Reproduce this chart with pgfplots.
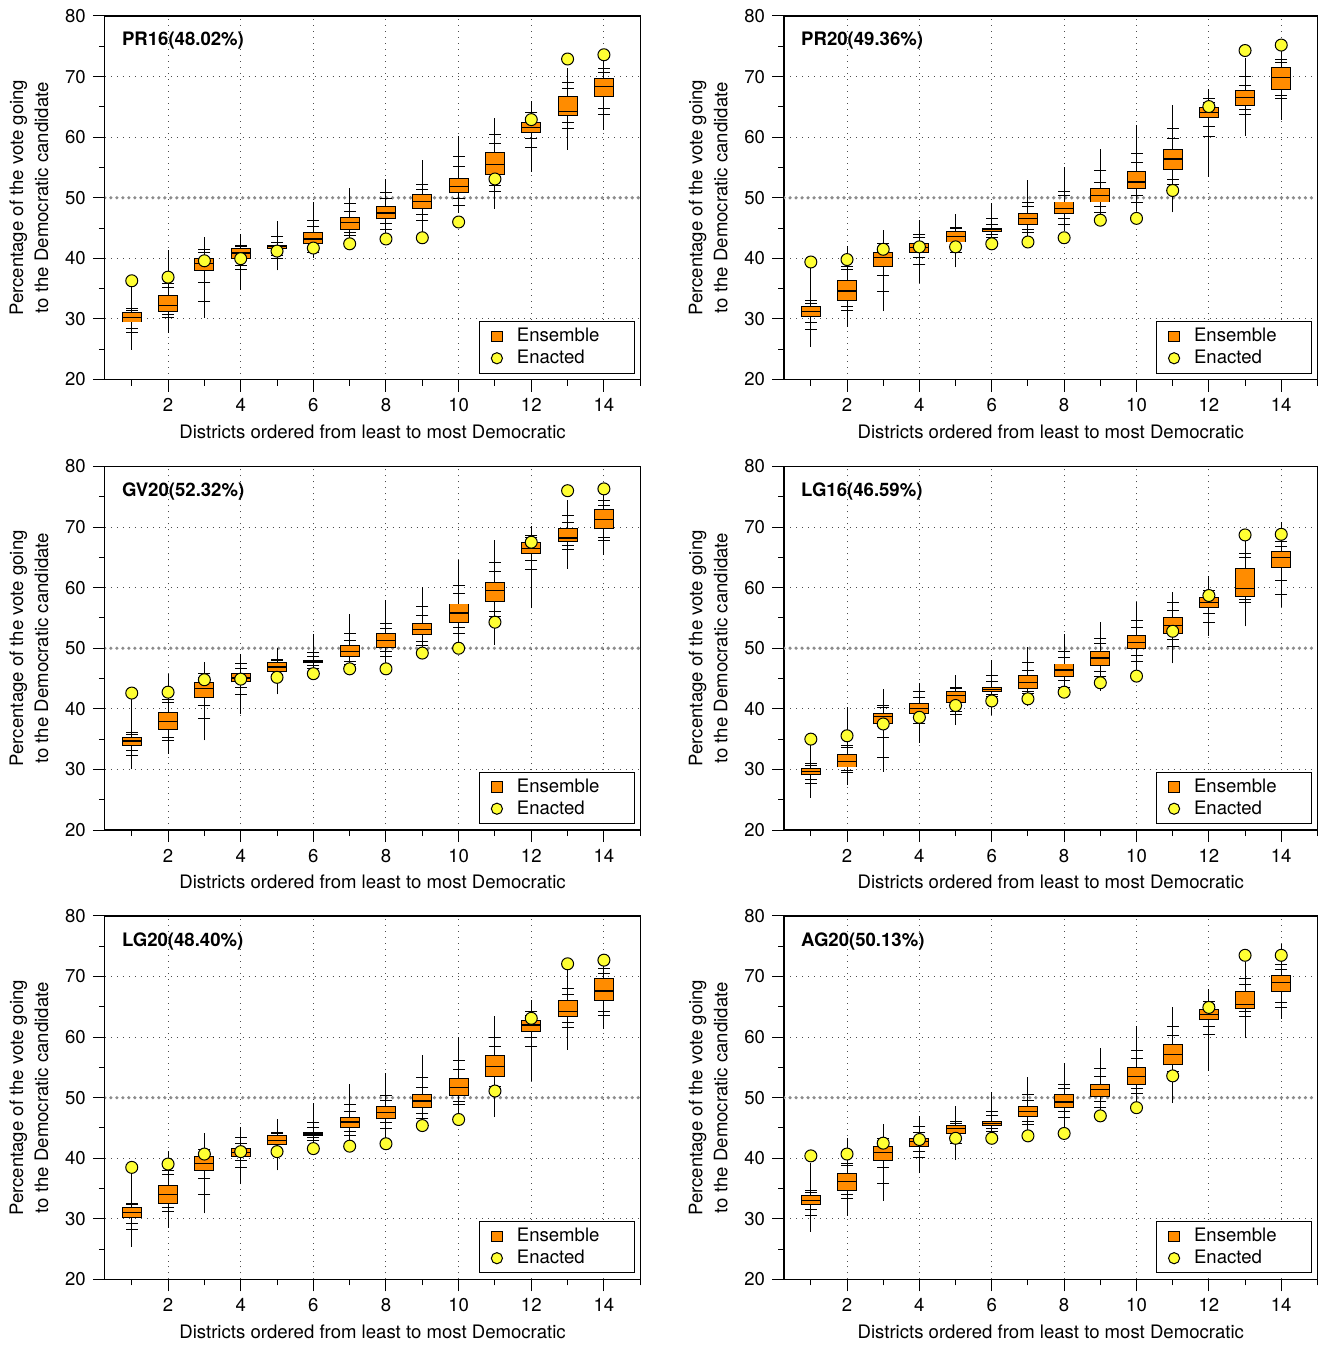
\documentclass[border=0pt]{standalone}
\usepackage{fontspec}
\setmainfont{TeX Gyre Heros}
\usepackage{pgfplots}
\pgfplotsset{compat=1.18}
\usepackage{pgfplotstable}
\definecolor{boxorange}{RGB}{255,140,0}
\definecolor{enyellow}{RGB}{255,255,51}

% columns: district, min, p1, p5, q1, median, q3, p95, p99, max, enacted
\pgfplotstableread{
d lw p1 p5 q1 med q3 p95 p99 uw en
1 24.9 27.8 28.5 29.5 30.3 31.0 31.4 31.8 35.8 36.3
2 27.7 30.2 30.7 31.3 32.2 33.85 35.2 35.8 41.4 36.9
3 30.2 32.8 36.0 38.0 39.1 40.05 40.9 41.5 43.5 39.6
4 34.8 38.2 38.9 40.05 40.9 41.6 41.9 42.2 44.0 39.95
5 38.0 40.05 40.5 41.7 41.9 42.1 42.7 43.6 46.2 41.2
6 40.05 41.0 41.6 42.4 43.2 44.2 45.3 46.3 49.3 41.7
7 43.2 43.8 44.2 44.8 45.9 46.8 47.7 49.0 51.6 42.4
8 43.9 44.7 45.8 46.5 47.5 48.6 49.8 50.8 53.1 43.2
9 44.2 46.3 47.2 48.3 49.4 50.6 51.3 52.25 56.2 43.4
10 47.5 48.8 49.9 50.8 51.8 53.2 55.2 56.8 60.2 46.0
11 48.2 51.0 52.0 53.8 55.5 57.4 59.0 60.4 63.1 53.1
12 54.3 58.35 59.8 60.8 61.6 62.5 63.3 64.0 65.9 62.9
13 57.9 61.4 62.5 63.6 64.3 66.7 68.0 69.1 71.4 72.9
14 61.2 63.8 64.7 66.7 68.4 69.7 70.7 71.4 73.0 73.6
}\tA

\pgfplotstableread{
d lw p1 p5 q1 med q3 p95 p99 uw en
1 25.4 28.3 29.4 30.4 31.2 32.0 32.6 33.0 38.9 39.4
2 28.7 31.4 32.0 33.1 34.6 36.3 38.2 38.7 42.0 39.8
3 31.3 34.5 37.1 38.6 40.1 41.0 41.8 42.5 44.7 41.5
4 36.0 39.0 40.2 41.0 41.8 42.4 43.4 44.0 46.3 41.9
5 38.5 41.0 42.0 42.7 43.6 44.45 44.9 45.1 47.25 41.9
6 41.5 43.5 44.0 44.5 44.7 44.95 45.6 46.5 49.2 42.4
7 43.1 44.2 44.8 45.6 46.6 47.4 48.6 49.3 52.9 42.7
8 44.5 45.6 46.6 47.4 48.2 49.3 50.4 51.1 55.1 43.4
9 46.7 47.6 48.5 49.3 50.4 51.5 52.6 54.5 58.1 46.3
10 47.8 49.3 50.4 51.5 52.6 54.4 55.9 57.3 62.0 46.6
11 47.6 52.2 53.0 54.7 56.4 58.0 59.8 61.4 65.3 51.2
12 53.5 60.05 61.7 63.2 64.1 64.9 65.7 66.3 67.9 65.05
13 60.2 63.7 64.6 65.3 66.6 67.7 68.6 70.05 73.1 74.3
14 62.8 66.4 66.9 67.9 69.8 71.5 72.25 72.9 74.2 75.2
}\tB

\pgfplotstableread{
d lw p1 p5 q1 med q3 p95 p99 uw en
1 30.0 32.3 33.2 34.0 34.7 35.2 35.7 36.05 42.0 42.6
2 32.6 34.8 35.3 36.6 37.9 39.45 41.1 41.6 45.7 42.75
3 34.8 38.35 40.5 41.8 43.3 44.4 45.2 45.8 47.7 44.8
4 39.1 42.4 43.5 44.45 45.1 45.9 46.6 47.5 49.1 44.9
5 42.4 45.0 45.6 46.2 46.9 47.6 48.0 48.2 50.05 45.2
6 44.8 46.6 47.1 47.6 47.75 48.0 48.7 49.3 52.4 45.8
7 45.9 47.3 47.75 48.7 49.5 50.4 51.3 52.5 55.7 46.6
8 47.3 48.7 49.4 50.2 51.3 52.4 53.2 54.0 57.9 46.6
9 49.8 50.4 51.15 52.2 53.1 54.1 55.4 56.9 60.1 49.2
10 50.9 52.4 53.5 54.3 55.8 57.3 59.0 60.3 64.6 50.0
11 50.6 55.3 56.1 57.7 59.5 60.9 62.6 64.2 67.9 54.3
12 56.6 63.0 64.45 65.7 66.5 67.5 68.2 68.6 70.2 67.5
13 63.1 66.3 67.0 67.6 68.2 69.7 70.7 71.9 74.5 76.0
14 65.4 67.75 68.3 69.7 71.3 72.9 73.6 74.3 75.3 76.3
}\tC

\pgfplotstableread{
d lw p1 p5 q1 med q3 p95 p99 uw en
1 25.3 27.7 28.35 29.1 29.6 30.2 30.6 31.0 34.5 35.0
2 27.4 29.45 29.9 30.4 31.3 32.4 33.6 34.0 40.3 35.55
3 29.6 32.0 35.2 37.5 38.7 39.3 40.2 40.6 43.3 37.5
4 34.4 37.6 38.35 39.3 40.05 40.8 41.9 42.8 44.3 38.6
5 37.3 39.0 39.6 41.1 42.2 42.9 43.3 43.6 45.55 40.55
6 39.0 42.0 42.4 42.9 43.2 43.5 44.45 45.5 48.0 41.3
7 40.4 42.5 42.9 43.3 44.4 45.55 46.3 47.6 50.2 41.65
8 42.1 43.6 44.6 45.4 46.4 47.4 48.5 49.5 52.4 42.75
9 43.0 45.4 46.2 47.2 48.4 49.5 50.8 51.6 54.3 44.3
10 46.4 47.75 48.85 50.0 51.0 52.1 53.35 54.6 57.6 45.4
11 47.5 50.3 51.4 52.4 53.8 55.0 56.3 57.6 59.2 52.8
12 52.1 54.3 55.7 56.8 57.6 58.3 58.9 59.5 62.0 58.7
13 53.6 57.6 58.0 58.6 59.8 63.1 64.9 65.6 67.8 68.7
14 56.8 58.85 61.15 63.4 65.0 65.9 66.8 67.6 70.9 68.8
}\tD

\pgfplotstableread{
d lw p1 p5 q1 med q3 p95 p99 uw en
1 25.4 28.2 29.2 30.2 31.0 31.8 32.3 32.6 37.9 38.5
2 28.5 31.2 31.8 32.6 34.0 35.5 37.3 38.0 41.2 39.05
3 30.9 34.0 36.6 38.0 39.2 40.3 41.0 41.5 44.1 40.7
4 35.7 38.5 39.6 40.3 41.0 41.65 42.5 43.4 45.2 41.1
5 38.0 40.8 41.5 42.2 43.0 43.7 44.1 44.3 46.5 41.1
6 41.6 42.9 43.4 43.8 44.0 44.2 45.1 45.9 49.1 41.6
7 42.7 43.8 44.4 45.05 46.0 46.7 47.8 48.8 52.2 42.0
8 43.3 44.9 45.9 46.5 47.6 48.6 49.6 50.4 54.0 42.4
9 46.0 46.6 47.4 48.4 49.45 50.5 51.65 53.3 57.0 45.4
10 47.1 48.8 49.45 50.4 51.65 53.2 54.7 56.1 60.05 46.4
11 46.8 51.0 51.8 53.5 55.2 56.9 58.5 59.9 63.5 51.1
12 52.7 58.5 59.9 61.0 62.0 62.8 63.5 64.2 66.1 63.1
13 57.9 61.6 62.4 63.35 64.2 66.1 67.1 68.1 71.3 72.1
14 61.3 63.5 64.2 66.1 67.6 69.6 70.5 71.3 73.6 72.7
}\tE

\pgfplotstableread{
d lw p1 p5 q1 med q3 p95 p99 uw en
1 27.9 30.55 31.5 32.4 33.1 33.85 34.3 34.7 39.2 40.4
2 30.55 33.4 34.0 34.7 36.15 37.5 38.8 39.2 43.3 40.7
3 33.0 35.9 38.5 39.7 41.0 41.9 42.6 43.2 45.6 42.5
4 37.5 40.1 41.2 41.9 42.75 43.3 44.3 45.2 46.9 43.1
5 39.7 42.5 43.4 44.1 44.9 45.4 45.8 46.1 48.6 43.3
6 42.7 44.4 44.9 45.4 45.7 46.05 47.0 47.8 51.0 43.3
7 44.4 45.5 46.05 46.9 47.7 48.5 49.6 50.6 53.35 43.7
8 45.2 46.7 47.7 48.35 49.3 50.55 51.5 52.2 55.7 44.1
9 47.8 48.35 49.3 50.2 51.3 52.2 53.5 54.8 58.2 47.0
10 49.3 50.7 51.5 52.25 53.5 55.0 56.5 57.85 61.9 48.35
11 49.1 53.8 54.4 55.4 57.1 58.7 60.2 61.7 64.9 53.6
12 54.45 60.4 61.8 62.9 63.7 64.6 65.4 65.9 67.9 64.9
13 59.8 63.35 64.2 64.7 65.4 67.5 68.6 69.6 72.4 73.5
14 63.0 64.9 65.7 67.6 68.95 70.2 71.2 72.0 75.4 73.5
}\tF

\newcommand\fs{\fontsize{9.3}{11}\selectfont}

\pgfplotsset{
  panel/.style={
    scale only axis, width=268pt, height=182pt,
    xmin=0.26, xmax=15, ymin=20, ymax=80,
    xtick={2,4,...,14}, minor xtick={1,3,...,15},
    ytick={20,30,...,80}, minor ytick={25,35,...,75},
    tick align=outside, xtick pos=bottom, ytick pos=left,
    major tick length=6pt, minor tick length=3pt,
    tick style={black, line width=0.5pt},
    xmajorgrids, ymajorgrids,
    major grid style={black!70, line width=0.5pt, dash pattern=on 0.5pt off 2.5pt},
    axis line style={black, line width=0.6pt},
    /pgf/number format/assume math mode=true,
    font=\fs,
    tick label style={font=\fs},
    xlabel={Districts ordered from least to most Democratic},
    ylabel={Percentage of the vote going\\to the Democratic candidate},
    xlabel style={at={(rel axis cs:0.5,0)}, anchor=center, yshift=-26pt, font=\fs},
    ylabel style={at={(rel axis cs:0,0.5)}, anchor=center, yshift=38pt, align=center, font=\fontsize{9.3}{12.5}\selectfont},
    title style={at={(rel axis cs:0,1)}, anchor=north west, inner sep=0pt, xshift=8.4pt, yshift=-14pt, font=\bfseries\fs},
    legend style={at={(1,0)}, anchor=south east, xshift=-2.5pt, yshift=3pt, draw=black, line width=0.5pt, inner xsep=4pt, inner ysep=2pt, nodes={inner sep=0pt}, font=\fs},
    legend cell align=left,
    legend image code/.code={\path[draw=none, fill=none] (0pt,-5.4pt) rectangle (14.8pt,5.4pt); \draw[##1] plot coordinates {(4.8pt,0pt)};},
  }
}

\newcommand\panelcontent[1]{%
  % 50 % reference line
  \addplot[gray!90, line width=1.8pt, dash pattern=on 0pt off 3pt, line cap=round, forget plot] coordinates {(0.26,50) (15,50)};
  % whiskers (min to max)
  \addplot[draw=none, mark=none, forget plot, error bars/.cd, y dir=plus, y explicit, error mark=none,
    error bar style={draw=black, solid, line width=0.5pt}]
    table[x=d, y=lw, y error plus expr=\thisrow{uw}-\thisrow{lw}] {#1};
  % percentile marks
  \addplot[only marks, mark=-, mark size=3pt, black, line width=0.5pt, forget plot] table[x=d, y=p1] {#1};
  \addplot[only marks, mark=-, mark size=3pt, black, line width=0.5pt, forget plot] table[x=d, y=p5] {#1};
  \addplot[only marks, mark=-, mark size=3pt, black, line width=0.5pt, forget plot] table[x=d, y=p95] {#1};
  \addplot[only marks, mark=-, mark size=3pt, black, line width=0.5pt, forget plot] table[x=d, y=p99] {#1};
  % boxes: outline, then fill (q1 to q3)
  \addplot[draw=none, mark=none, forget plot, error bars/.cd, y dir=plus, y explicit, error mark=none,
    error bar style={draw=black, solid, line width=9.95pt, line cap=butt}]
    table[x=d, y expr=\thisrow{q1}-0.08, y error plus expr=\thisrow{q3}-\thisrow{q1}+0.16] {#1};
  \addplot[draw=none, mark=none, forget plot, error bars/.cd, y dir=plus, y explicit, error mark=none,
    error bar style={draw=boxorange, solid, line width=8.95pt, line cap=butt}]
    table[x=d, y expr=\thisrow{q1}+0.08, y error plus expr=\thisrow{q3}-\thisrow{q1}-0.16] {#1};
  % medians
  \addplot[only marks, mark=-, mark size=4.75pt, black, mark options={line width=0.6pt}, forget plot] table[x=d, y=med] {#1};
  % enacted plan
  \addplot[only marks, mark=*, mark size=3pt, mark options={fill=enyellow, draw=black, line width=0.5pt}, forget plot] table[x=d, y=en] {#1};
  \addlegendimage{only marks, mark=square*, mark size=2.6pt, mark options={fill=boxorange, draw=black, line width=0.5pt}}
  \addlegendentry{\makebox[55pt][l]{Ensemble}}
  \addlegendimage{only marks, mark=*, mark size=2.8pt, mark options={fill=enyellow, draw=black, line width=0.5pt}}
  \addlegendentry{\makebox[55pt][l]{Enacted}}
}

\begin{document}
\begin{tikzpicture}
\path (0pt,0pt) rectangle (661pt,-672.5pt);
\begin{axis}[panel, at={(52.5pt,-8pt)}, anchor=north west, title={PR16(48.02\%)}]
\panelcontent{\tA}
\end{axis}
\begin{axis}[panel, width=267pt, at={(392.5pt,-8pt)}, anchor=north west, title={PR20(49.36\%)}]
\panelcontent{\tB}
\end{axis}
\begin{axis}[panel, at={(52.5pt,-233.5pt)}, anchor=north west, title={GV20(52.32\%)}]
\panelcontent{\tC}
\end{axis}
\begin{axis}[panel, width=267pt, at={(392.5pt,-233.5pt)}, anchor=north west, title={LG16(46.59\%)}]
\panelcontent{\tD}
\end{axis}
\begin{axis}[panel, at={(52.5pt,-458.5pt)}, anchor=north west, title={LG20(48.40\%)}]
\panelcontent{\tE}
\end{axis}
\begin{axis}[panel, width=267pt, at={(392.5pt,-458.5pt)}, anchor=north west, title={AG20(50.13\%)}]
\panelcontent{\tF}
\end{axis}
\end{tikzpicture}
\end{document}
